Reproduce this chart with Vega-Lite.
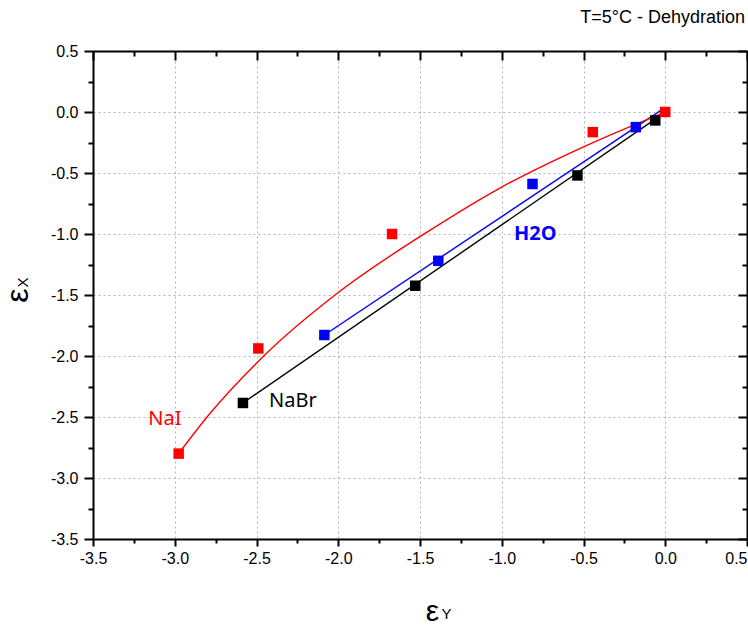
{
  "$schema": "https://vega.github.io/schema/vega-lite/v6.json",
  "width": 654,
  "height": 488,
  "autosize": {"type": "none"},
  "padding": {"left": 93, "top": 51, "right": 1, "bottom": 88},
  "background": "white",
  "config": {
    "view": {"stroke": null},
    "font": "Liberation Sans",
    "locale": {"number": {"decimal": ".", "thousands": ",", "grouping": [3], "currency": ["$", ""], "minus": "-"}}
  },
  "title": {
    "text": "T=5°C - Dehydration",
    "anchor": "end",
    "font": "Liberation Sans",
    "fontSize": 18,
    "fontWeight": "normal",
    "color": "#000000",
    "offset": 16,
    "dx": -3
  },
  "datasets": {
    "pts": [
      {"series": "NaBr", "eY": -2.583, "eX": -2.385},
      {"series": "NaBr", "eY": -1.529, "eX": -1.424},
      {"series": "NaBr", "eY": -0.537, "eX": -0.52},
      {"series": "NaBr", "eY": -0.061, "eX": -0.069},
      {"series": "H2O", "eY": -2.085, "eX": -1.828},
      {"series": "H2O", "eY": -1.388, "eX": -1.22},
      {"series": "H2O", "eY": -0.812, "eX": -0.59},
      {"series": "H2O", "eY": -0.18, "eX": -0.124},
      {"series": "NaI", "eY": -2.976, "eX": -2.8},
      {"series": "NaI", "eY": -2.489, "eX": -1.938},
      {"series": "NaI", "eY": -1.671, "eX": -1.0},
      {"series": "NaI", "eY": -0.443, "eX": -0.165},
      {"series": "NaI", "eY": 0.0, "eX": 0.0}
    ],
    "fits": [
      {"series": "NaBr", "eY": -2.583, "eX": -2.385},
      {"series": "NaBr", "eY": -0.03, "eX": -0.03},
      {"series": "H2O", "eY": -2.085, "eX": -1.828},
      {"series": "H2O", "eY": -0.02, "eX": 0.02},
      {"series": "NaI", "eY": -2.976, "eX": -2.8},
      {"series": "NaI", "eY": -2.79, "eX": -2.48},
      {"series": "NaI", "eY": -2.44, "eX": -1.98},
      {"series": "NaI", "eY": -2.0, "eX": -1.48},
      {"series": "NaI", "eY": -1.44, "eX": -0.97},
      {"series": "NaI", "eY": -1.0, "eX": -0.615},
      {"series": "NaI", "eY": -0.5, "eX": -0.285},
      {"series": "NaI", "eY": 0.0, "eX": 0.0}
    ],
    "labels": [
      {"series": "NaI", "label": "NaI", "eY": -3.06, "eX": -2.52, "bold": false},
      {"series": "NaBr", "label": "NaBr", "eY": -2.277, "eX": -2.37, "bold": false},
      {"series": "H2O", "label": "H2O", "eY": -0.795, "eX": -1.0, "bold": true}
    ]
  },
  "layer": [
    {
      "data": {"name": "fits"},
      "mark": {"type": "line", "strokeWidth": 1.4, "interpolate": "monotone"},
      "encoding": {
        "x": {
          "field": "eY", "type": "quantitative",
          "scale": {"domain": [-3.5, 0.5], "nice": false, "zero": false},
          "axis": {
            "orient": "bottom",
            "values": [-3.5, -3, -2.5, -2, -1.5, -1, -0.5, 0, 0.5],
            "format": ".1f",
            "labelFont": "Liberation Sans", "labelFontSize": 16, "labelColor": "#000000",
            "labelAlign": {"condition": {"test": "datum.value >= 0.5", "value": "right"}, "value": "center"},
            "labelPadding": 4, "labelFlush": false, "labelOverlap": false,
            "tickSize": 7, "tickWidth": 2, "tickColor": "#000000",
            "domain": true, "domainWidth": 2, "domainColor": "#000000",
            "grid": true, "gridDash": [2, 3], "gridColor": "#b4b4b4", "gridWidth": 1,
            "title": "ε", "titleFont": "Liberation Sans", "titleFontSize": 30, "titleFontWeight": "normal",
            "titleColor": "#000000", "titleX": 339, "titleY": 81, "titleAlign": "center", "titleBaseline": "alphabetic"
          }
        },
        "y": {
          "field": "eX", "type": "quantitative",
          "scale": {"domain": [-3.5, 0.5], "nice": false, "zero": false},
          "axis": {
            "orient": "left",
            "values": [-3.5, -3, -2.5, -2, -1.5, -1, -0.5, 0, 0.5],
            "format": ".1f",
            "labelFont": "Liberation Sans", "labelFontSize": 16, "labelColor": "#000000",
            "labelPadding": 6, "labelFlush": false, "labelOverlap": false,
            "tickSize": 9, "tickWidth": 2, "tickColor": "#000000",
            "domain": true, "domainWidth": 2, "domainColor": "#000000",
            "grid": true, "gridDash": [2, 3], "gridColor": "#b4b4b4", "gridWidth": 1,
            "title": "ε", "titleFont": "Liberation Sans", "titleFontSize": 32, "titleFontWeight": "normal",
            "titleColor": "#000000", "titleAngle": 270, "titleX": -66, "titleY": 244, "titleAlign": "center", "titleBaseline": "alphabetic"
          }
        },
        "color": {
          "field": "series", "type": "nominal",
          "scale": {"domain": ["NaBr", "H2O", "NaI"], "range": ["#000000", "#0000ff", "#ff0000"]},
          "legend": null
        }
      }
    },
    {
      "data": {"name": "pts"},
      "mark": {"type": "square", "filled": true, "size": 110, "opacity": 1},
      "encoding": {
        "x": {
          "field": "eY", "type": "quantitative",
          "scale": {"domain": [-3.5, 0.5], "nice": false, "zero": false},
          "axis": {
            "orient": "bottom",
            "values": [-3.25, -2.75, -2.25, -1.75, -1.25, -0.75, -0.25, 0.25],
            "labels": false, "grid": false, "domain": false,
            "tickSize": 4, "tickWidth": 2, "tickColor": "#000000",
            "title": "Y", "titleFont": "Liberation Sans", "titleFontSize": 15, "titleFontWeight": "normal",
            "titleColor": "#000000", "titleX": 348, "titleY": 79, "titleAlign": "left", "titleBaseline": "alphabetic"
          }
        },
        "y": {
          "field": "eX", "type": "quantitative",
          "scale": {"domain": [-3.5, 0.5], "nice": false, "zero": false},
          "axis": {
            "orient": "left",
            "values": [-3.25, -2.75, -2.25, -1.75, -1.25, -0.75, -0.25, 0.25],
            "labels": false, "grid": false, "domain": false,
            "tickSize": 5, "tickWidth": 2, "tickColor": "#000000",
            "title": "X", "titleFont": "Liberation Sans", "titleFontSize": 15, "titleFontWeight": "normal",
            "titleColor": "#000000", "titleAngle": 270, "titleX": -66, "titleY": 231, "titleAlign": "center", "titleBaseline": "alphabetic"
          }
        },
        "color": {"field": "series", "type": "nominal", "legend": null}
      }
    },
    {
      "data": {"name": "labels"},
      "transform": [{"filter": "!datum.bold"}],
      "mark": {"type": "text", "font": "Noto Sans", "fontSize": 20, "align": "center", "baseline": "middle"},
      "encoding": {
        "x": {
          "field": "eY", "type": "quantitative",
          "scale": {"domain": [-3.5, 0.5], "nice": false, "zero": false},
          "axis": {
            "orient": "top",
            "values": [-3.5, -3, -2.5, -2, -1.5, -1, -0.5, 0, 0.5],
            "labels": false, "grid": false,
            "domain": true, "domainWidth": 2, "domainColor": "#000000",
            "tickSize": -9, "tickWidth": 2, "tickColor": "#000000",
            "title": null
          }
        },
        "y": {
          "field": "eX", "type": "quantitative",
          "scale": {"domain": [-3.5, 0.5], "nice": false, "zero": false},
          "axis": {
            "orient": "right",
            "values": [-3.5, -3, -2.5, -2, -1.5, -1, -0.5, 0, 0.5],
            "labels": false, "grid": false,
            "domain": true, "domainWidth": 2, "domainColor": "#000000",
            "tickSize": -9, "tickWidth": 2, "tickColor": "#000000",
            "title": null
          }
        },
        "text": {"field": "label"},
        "color": {"field": "series", "type": "nominal", "legend": null}
      }
    },
    {
      "data": {"name": "labels"},
      "transform": [{"filter": "datum.bold"}],
      "mark": {"type": "text", "font": "Noto Sans", "fontSize": 20, "fontWeight": "bold", "align": "center", "baseline": "middle"},
      "encoding": {
        "x": {
          "field": "eY", "type": "quantitative",
          "scale": {"domain": [-3.5, 0.5], "nice": false, "zero": false},
          "axis": {
            "orient": "top",
            "values": [-3.25, -2.75, -2.25, -1.75, -1.25, -0.75, -0.25, 0.25],
            "labels": false, "grid": false, "domain": false,
            "tickSize": -5, "tickWidth": 2, "tickColor": "#000000",
            "title": null
          }
        },
        "y": {
          "field": "eX", "type": "quantitative",
          "scale": {"domain": [-3.5, 0.5], "nice": false, "zero": false},
          "axis": {
            "orient": "right",
            "values": [-3.25, -2.75, -2.25, -1.75, -1.25, -0.75, -0.25, 0.25],
            "labels": false, "grid": false, "domain": false,
            "tickSize": -5, "tickWidth": 2, "tickColor": "#000000",
            "title": null
          }
        },
        "text": {"field": "label"},
        "color": {"field": "series", "type": "nominal", "legend": null}
      }
    }
  ],
  "resolve": {"axis": {"x": "independent", "y": "independent"}}
}
